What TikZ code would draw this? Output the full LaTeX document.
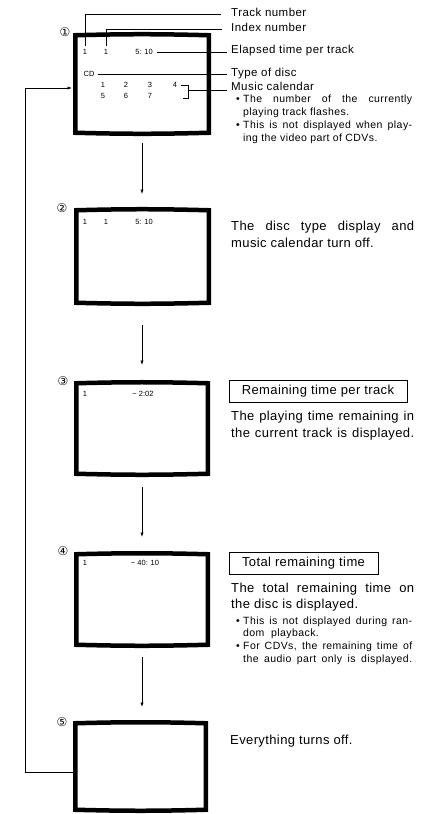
\documentclass[tikz,border=0pt]{standalone}
\usepackage{fontspec}
\setmainfont{Liberation Sans}
\newfontfamily\lsp[LetterSpace=4]{Liberation Sans}
\newfontfamily\dsp[LetterSpace=3]{Liberation Sans}
\newfontfamily\circfont{DejaVu Sans}
\usetikzlibrary{arrows.meta}
\begin{document}
\begin{tikzpicture}[x=1pt,y=-1pt,
  thin/.style={line width=0.7pt},
  arr/.style={thin,-{Latex[length=4.5pt,width=3.2pt]}},
  scr/.style={line width=4.5pt,line join=miter},
  scrnode/.style={draw=none,inner sep=0pt,outer sep=0pt},
  stxt/.style={font=\fontsize{7.5}{8}\selectfont,inner sep=0pt,text height=5.5pt,text depth=0pt},
  lbl/.style={font=\fontsize{11.5}{13}\selectfont\lsp,anchor=west,inner sep=0pt,text height=8.6pt,text depth=2.9pt},
  desc/.style={font=\fontsize{13}{15}\selectfont\dsp,anchor=west,inner sep=0pt,text height=9.75pt,text depth=3.25pt},
  bul/.style={font=\fontsize{10.5}{12}\selectfont\lsp,anchor=west,inner sep=0pt,text height=7.9pt,text depth=2.6pt},
  num/.style={font=\fontsize{12}{13}\selectfont\circfont,inner sep=0pt},
  tbox/.style={draw,line width=0.8pt,inner sep=0pt,font=\fontsize{13}{15}\selectfont\dsp}
]
\useasboundingbox (0,0) rectangle (439,814);
\newcommand\crt[1]{\draw[scr] (#1.north west) to[bend left=1.5] (#1.north east) -- (#1.south east) to[bend left=1.5] (#1.south west) -- cycle;}

% screens
\node[scrnode,minimum width=133.5pt,minimum height=97.5pt] (s1) at (142,84) {};
\node[scrnode,minimum width=132.5pt,minimum height=92.5pt] (s2) at (142.5,256.5) {};
\node[scrnode,minimum width=131.5pt,minimum height=90.5pt] (s3) at (142,428.5) {};
\node[scrnode,minimum width=131.5pt,minimum height=90.5pt] (s4) at (142,599.5) {};
\node[scrnode,minimum width=130.5pt,minimum height=86.5pt] (s5) at (140.5,766.5) {};
\crt{s1}\crt{s2}\crt{s3}\crt{s4}\crt{s5}

% circled numbers
\node[num] (n1) at (65,32) {①};
\node[num] (n2) at (62,208) {②};
\node[num] (n3) at (63,381) {③};
\node[num] (n4) at (63,551) {④};
\node[num] (n5) at (62,722) {⑤};

% screen 1 contents
\node[stxt] (t1a) at (85,52) {1};
\node[stxt] (t1b) at (106,52) {1};
\node[stxt] (t1c) at (144,52) {5: 10};
\node[stxt] (cd) at (89,74) {CD};
\node[stxt] (c1) at (103,85) {1};
\node[stxt] (c2) at (126,85) {2};
\node[stxt] (c3) at (150,85) {3};
\node[stxt] (c4) at (175,85) {4};
\node[stxt] (c5) at (103,96) {5};
\node[stxt] (c6) at (126,96) {6};
\node[stxt] (c7) at (150,96) {7};

% labels for screen 1
\node[lbl] (ltrack) at (231,14) {Track number};
\node[lbl] (lindex) at (231,29) {Index number};
\node[lbl] (lelap) at (231,51) {Elapsed time per track};
\node[lbl] (ltype) at (231,74) {Type of disc};
\node[lbl] (lmusic) at (231,88) {Music calendar};

\draw[thin] ([yshift=3pt]t1a.north) |- ([xshift=-10pt]ltrack.west);
\draw[thin] ([yshift=3pt]t1b.north) |- ([xshift=-9pt]lindex.west);
\draw[thin,shorten <=4pt,shorten >=4pt] (t1c.east) -- (t1c.east -| lelap.west);
\draw[thin,shorten <=3pt,shorten >=4pt] (cd.east) -- (cd.east -| ltype.west);
\coordinate (brA) at (181,85);
\coordinate (brB) at (188,85);
\coordinate (brC) at (188,98);
\coordinate (brD) at (183,98);
\coordinate (brM) at (188,90);
\draw[thin] (brA) -- (brB) -- (brC) -- (brD);
\draw[thin,shorten >=4pt] (brM) -- (brM -| lmusic.west);

\node[bul] (b1d) at (236,100) {•};
\node[bul] (b1a) at (243,100) {\makebox[169pt][s]{The number of the currently}};
\node[bul] (b1b) at (243,113) {playing track flashes.};
\node[bul] (b2d) at (236,126) {•};
\node[bul] (b2a) at (243,126) {\makebox[169pt][s]{This is not displayed when play-}};
\node[bul] (b2b) at (243,139) {ing the video part of CDVs.};

% screen 2
\node[stxt] (t2a) at (85,222) {1};
\node[stxt] (t2b) at (106,222) {1};
\node[stxt] (t2c) at (144,222) {5: 10};
\node[desc] (d2a) at (231,227) {\makebox[183pt][s]{The disc type display and}};
\node[desc] (d2b) at (231,244) {music calendar turn off.};

% screen 3
\node[stxt] (t3a) at (85,394) {1};
\node[stxt] (t3c) at (143,394) {− 2:02};
\node[tbox,minimum width=178pt,minimum height=22pt] (box3) at (318,391) {Remaining time per track};
\node[desc] (d3a) at (231,417) {\makebox[183pt][s]{The playing time remaining in}};
\node[desc] (d3b) at (231,434) {\makebox[183pt][s]{the current track is displayed.}};

% screen 4
\node[stxt] (t4a) at (85,563) {1};
\node[stxt] (t4c) at (145,563) {− 40: 10};
\node[tbox,minimum width=149pt,minimum height=22pt] (box4) at (303.5,563) {Total remaining time};
\node[desc] (d4a) at (231,589) {\makebox[183pt][s]{The total remaining time on}};
\node[desc] (d4b) at (231,605) {the disc is displayed.};
\node[bul] (b3d) at (236,622) {•};
\node[bul] (b3a) at (243,622) {\makebox[169pt][s]{This is not displayed during ran-}};
\node[bul] (b3b) at (243,634) {dom\ \ playback.};
\node[bul] (b4d) at (236,647) {•};
\node[bul] (b4a) at (243,647) {\makebox[169pt][s]{For CDVs, the remaining time of}};
\node[bul] (b4b) at (243,660) {\makebox[169pt][s]{the audio part only is displayed.}};

% screen 5
\node[desc] (d5) at (230,741) {Everything turns off.};

% arrows
\draw[arr,shorten <=10.25pt,shorten >=16.25pt] (s1.south) -- (s1.south |- s2.north);
\draw[arr,shorten <=22.25pt,shorten >=18.25pt] (s1.south |- s2.south) -- (s1.south |- s3.north);
\draw[arr,shorten <=13.25pt,shorten >=17.25pt] (s3.south) -- (s3.south |- s4.north);
\draw[arr,shorten <=12.25pt,shorten >=16.25pt] (s4.south) -- (s4.south |- s5.north);

% loop back
\coordinate (lp1) at (25,772);
\coordinate (lp2) at (25,88);
\draw[arr,shorten >=3.25pt] (s5.west |- lp1) -- (lp1) -- (lp2) -- (lp2 -| s1.west);
\end{tikzpicture}
\end{document}
